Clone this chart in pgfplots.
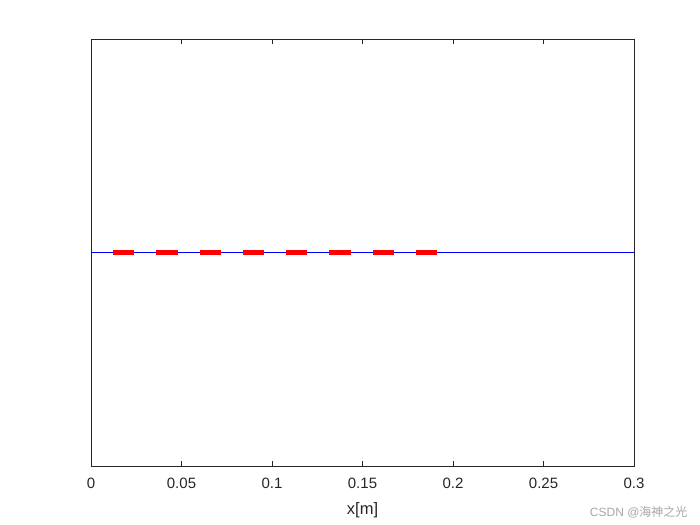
\documentclass[border=0pt]{standalone}
\usepackage{fontspec}
\setmainfont{Liberation Sans}
\newfontfamily\cjk{Noto Sans CJK SC}
\usepackage{pgfplots}
\pgfplotsset{compat=1.18}
\definecolor{axgray}{RGB}{38,38,38}
\begin{document}
\begin{tikzpicture}
\useasboundingbox (0,0) rectangle (700bp,525bp);
\begin{axis}[
  at={(91bp,59bp)}, anchor=south west,
  scale only axis, width=543bp, height=427bp,
  xmin=0, xmax=0.3, ymin=-1, ymax=1,
  xtick={0,0.05,0.1,0.15,0.2,0.25,0.3},
  xticklabels={0,0.05,0.1,0.15,0.2,0.25,0.3},
  ytick=\empty,
  tick align=inside, major tick length=5bp,
  axis line style={axgray, line width=0.6bp},
  every tick/.style={axgray, line width=0.6bp},
  tick label style={font=\fontsize{15bp}{17bp}\selectfont, text=axgray},
  xticklabel style={yshift=-9bp},
  xlabel={x[m]},
  xlabel style={font=\fontsize{16.5bp}{18bp}\selectfont, text=axgray, yshift=-7bp},
  clip=false,
]
\addplot[blue, line width=1.2bp] coordinates {(0,0) (0.3,0)};
\addplot[red, line width=4.8bp, dash pattern=on 21.3bp off 22bp] coordinates {(0.01215,0) (0.1917,0)};
\end{axis}
\node[anchor=east, text=black!35, font=\fontsize{12bp}{14bp}\selectfont] at (691bp,13bp) {CSDN @{\cjk 海神之光}};
\end{tikzpicture}
\end{document}
